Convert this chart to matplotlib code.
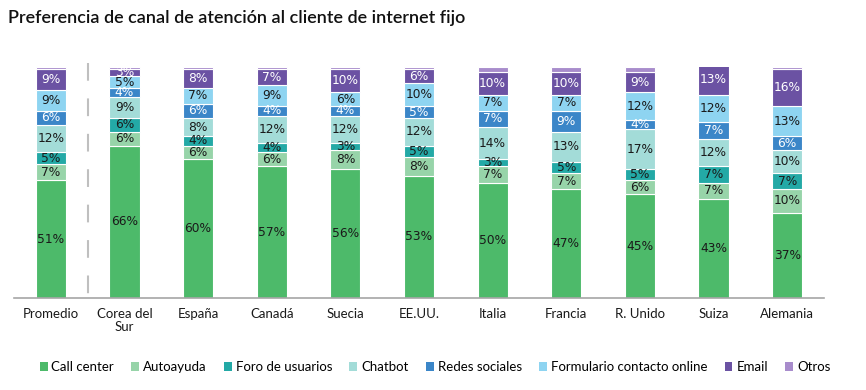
import matplotlib
matplotlib.use("Agg")
import matplotlib.pyplot as plt
import numpy as np
from matplotlib.patches import Patch

categories = ["Promedio", "Corea del\nSur", "España", "Canadá", "Suecia", "EE.UU.",
              "Italia", "Francia", "R. Unido", "Suiza", "Alemania"]
series_names = ["Call center", "Autoayuda", "Foro de usuarios", "Chatbot",
                "Redes sociales", "Formulario contacto online", "Email", "Otros"]
call_center = [51, 66, 60, 57, 56, 53, 50, 47, 45, 43, 37]
autoayuda = [7, 6, 6, 6, 8, 8, 7, 7, 6, 7, 10]
foro = [5, 6, 4, 4, 3, 5, 3, 5, 5, 7, 7]
chatbot = [12, 9, 8, 12, 12, 12, 14, 13, 17, 12, 10]
redes = [6, 4, 6, 4, 4, 5, 7, 9, 4, 7, 6]
formulario = [9, 5, 7, 9, 6, 10, 7, 7, 12, 12, 13]
email = [9, 3, 8, 7, 10, 6, 10, 10, 9, 13, 16]
otros = [1, 1, 1, 1, 1, 1, 2, 2, 2, 1, 1]

series = [call_center, autoayuda, foro, chatbot, redes, formulario, email, otros]
colors = ["#4dba6a", "#97d4a9", "#23a9a6", "#a3dcd8", "#3b86c8", "#8ed4f1", "#6b52a3", "#a88ccc"]
text_colors = ["#1a1a1a", "#1a1a1a", "#1a1a1a", "#1a1a1a", "white", "#1a1a1a", "white", "white"]
show_label = [True, True, True, True, True, True, True, False]

fig = plt.figure(figsize=(8.66, 3.9), dpi=100)
ax = fig.add_axes([14/866, 1-298/390, (824-14)/866, 231/390])

x = np.arange(len(categories))
bottom = np.zeros(len(categories))
for vals, col, tc, sl in zip(series, colors, text_colors, show_label):
    v = np.array(vals, dtype=float)
    ax.bar(x, v, 0.41, bottom=bottom, color=col, edgecolor="white", linewidth=0.8)
    if sl:
        for xi, b, h in zip(x, bottom, v):
            ax.text(xi, b + h/2, f"{int(h)}%", ha="center", va="center",
                    fontsize=8.8, color=tc, family="DejaVu Sans")
    bottom += v

ax.set_xlim(-0.5, 10.5)
ax.set_ylim(0, 100)
ax.set_yticks([])
ax.set_xticks(x)
ax.set_xticklabels(categories, fontsize=9.5, family="Lato", color="#1a1a1a", linespacing=1.1)
ax.tick_params(axis="x", length=0, pad=7)
for s in ["top", "right", "left"]:
    ax.spines[s].set_visible(False)
ax.spines["bottom"].set_color("#a6a6a6")
ax.spines["bottom"].set_linewidth(1.2)

line, = ax.plot([0.5, 0.5], [101.7, 0], color="#bfbfbf", lw=1.5, clip_on=False)
line.set_dashes((8.5, 8.5))

fig.text(8/866, 1-18/390, "Preferencia de canal de atención al cliente de internet fijo",
         fontsize=13, family="Lato", weight="semibold", va="center", ha="left", color="#111111")

handles = [Patch(facecolor=c, edgecolor="none") for c in colors]
fig.legend(handles, series_names, loc="center", bbox_to_anchor=(435/866, 1-367/390),
           ncol=8, frameon=False, prop={"family": "Lato", "size": 9.5},
           handlelength=0.6, handleheight=0.6, handletextpad=0.3, columnspacing=1.3)

fig.savefig("out.png", dpi=100)
